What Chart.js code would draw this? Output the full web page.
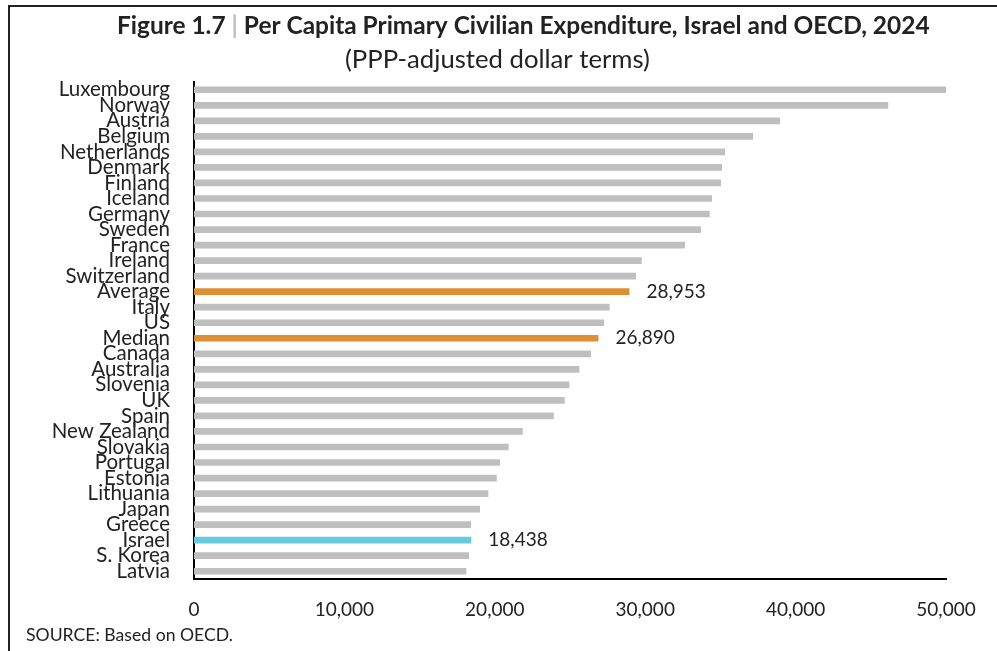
<!DOCTYPE html>
<html>
<head>
<meta charset="utf-8">
<script src="https://cdn.jsdelivr.net/npm/chart.js@4.4.0/dist/chart.umd.min.js"></script>
<style>
  html, body { margin: 0; padding: 0; background: #fff; }
  #frame { position: absolute; left: 8px; top: 5px; width: 1000px; height: 700px; border-top: 2px solid #222; border-left: 2px solid #222; }
  #wrap { position: absolute; left: 0; top: 0; width: 997px; height: 651px; }
</style>
</head>
<body>
<div id="frame"></div>
<div id="wrap"><canvas id="myChart" width="997" height="651"></canvas></div>
<script>
// categories, top to bottom
const countries = ["Luxembourg", "Norway", "Austria", "Belgium", "Netherlands", "Denmark",
  "Finland", "Iceland", "Germany", "Sweden", "France", "Ireland", "Switzerland", "Average",
  "Italy", "US", "Median", "Canada", "Australia", "Slovenia", "UK", "Spain", "New Zealand",
  "Slovakia", "Portugal", "Estonia", "Lithuania", "Japan", "Greece", "Israel", "S. Korea", "Latvia"];

// per capita expenditure, PPP dollars (except the three labelled ones)
const spending = [50000, 46160, 38960, 37170, 35310, 35110,
  35040, 34440, 34290, 33710, 32650, 29770, 29390, 28953,
  27640, 27260, 26890, 26400, 25620, 24960, 24650, 23920, 21860,
  20920, 20350, 20130, 19570, 19020, 18420, 18438, 18290, 18110];

const xTicks = [0, 10000, 20000, 30000, 40000, 50000];
const summaryRows = ["Average", "Median"];
const homeRow = "Israel";
const labelledRows = ["Average", "Median", "Israel"];

const titleText = ["Figure 1.7 ", "|", " Per Capita Primary Civilian Expenditure, Israel and OECD, 2024"];
const subtitleText = "(PPP-adjusted dollar terms)";
const sourceText = "SOURCE: Based on OECD.";

const FONT = 'Lato, "Open Sans", sans-serif';

function barColor(name) {
  if (summaryRows.includes(name)) return 'rgb(221,143,51)';
  if (name === homeRow) return 'rgb(102,203,221)';
  return 'rgb(191,191,191)';
}

const fmt = v => v.toLocaleString('en-US');

// pick a font size so that the text spans the given width
function fitFont(ctx, text, weight, width) {
  ctx.font = weight + ' 20px ' + FONT;
  const size = 20 * width / ctx.measureText(text).width;
  ctx.font = weight + ' ' + size.toFixed(2) + 'px ' + FONT;
  return size;
}

const figureText = {
  id: 'figureText',
  afterDraw(chart) {
    const ctx = chart.ctx;
    ctx.save();
    ctx.fillStyle = '#222';
    ctx.textBaseline = 'alphabetic';
    ctx.textAlign = 'left';

    // title, with the light grey divider
    fitFont(ctx, titleText.join(''), 'bold', 813);
    let x = 117;
    titleText.forEach((t, i) => {
      ctx.fillStyle = i === 1 ? '#bfbfbf' : '#222';
      ctx.fillText(t, x, 34);
      x += ctx.measureText(t).width;
    });

    ctx.fillStyle = '#222';
    fitFont(ctx, subtitleText, 'normal', 305);
    ctx.fillText(subtitleText, 345, 68);

    fitFont(ctx, sourceText, 'normal', 207);
    ctx.fillText(sourceText, 26, 641);

    // value labels next to the highlighted bars
    const meta = chart.getDatasetMeta(0);
    ctx.font = '19px ' + FONT;
    ctx.textBaseline = 'middle';
    countries.forEach((c, i) => {
      if (!labelledRows.includes(c)) return;
      const bar = meta.data[i];
      ctx.fillText(fmt(spending[i]), bar.x + 17, bar.y);
    });
    ctx.restore();
  }
};

window.onload = function() {
  const ctx = document.getElementById('myChart').getContext('2d');
  Chart.defaults.font.family = FONT;
  Chart.defaults.color = '#222';
  new Chart(ctx, {
    type: 'bar',
    data: {
      labels: countries,
      datasets: [{
        data: spending,
        backgroundColor: countries.map(barColor),
        borderWidth: 0,
        categoryPercentage: 1,
        barPercentage: 0.43,
      }],
    },
    options: {
      indexAxis: 'y',
      responsive: false,
      animation: false,
      layout: { padding: { top: 82, bottom: 31, left: 0, right: 51 } },
      plugins: {
        legend: { display: false },
        tooltip: { enabled: false },
      },
      scales: {
        x: {
          min: 0,
          max: 50000,
          afterBuildTicks: s => { s.ticks = xTicks.map(v => ({ value: v })); },
          afterFit: s => { s.height = 41; },
          grid: { display: false, drawTicks: false },
          border: { display: true, color: '#000', width: 2 },
          ticks: { padding: 19, font: { size: 19 }, callback: v => fmt(v) },
        },
        y: {
          afterFit: s => { s.width = 194; },
          grid: { display: false, drawTicks: false },
          border: { display: true, color: '#000', width: 2 },
          ticks: { padding: 24, font: { size: 20.5 }, autoSkip: false },
        },
      },
    },
    plugins: [figureText],
  });
};
</script>
</body>
</html>
